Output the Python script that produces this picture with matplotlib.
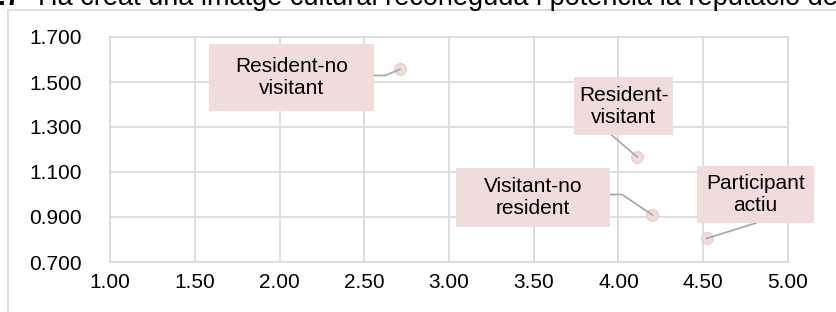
import numpy as np
import matplotlib.pyplot as plt
from matplotlib.patches import Rectangle

plt.rcParams['font.family'] = ['Liberation Sans', 'DejaVu Sans']

# data
names = ['Resident-no\nvisitant', 'Resident-\nvisitant', 'Visitant-no\nresident', 'Participant\nactiu']
xs = [2.71, 4.11, 4.20, 4.52]
ys = [1.556, 1.167, 0.909, 0.805]
xticks = [1.0, 1.5, 2.0, 2.5, 3.0, 3.5, 4.0, 4.5, 5.0]
yticks = [0.7, 0.9, 1.1, 1.3, 1.5, 1.7]

# label boxes (x0, x1, y0, y1) and leader start / elbow, data units
boxes = [(1.584, 2.558, 1.371, 1.669), (3.737, 4.322, 1.264, 1.522),
         (3.041, 3.950, 0.856, 1.118), (4.463, 5.153, 0.873, 1.127)]
leaders = [[(2.558, 1.529), (2.623, 1.529)], [(3.96, 1.264)],
           [(3.950, 1.000), (4.021, 1.000)], [(4.81, 0.873)]]

fig = plt.figure(figsize=(8.36, 3.12), dpi=100)
fig.text(-0.02, 1 - 5/312, '2.7', fontsize=19.5, fontweight='bold', va='baseline')
fig.text(0.045, 1 - 5/312, 'Ha creat una imatge cultural reconeguda i potencia la reputació del',
         fontsize=19.5, va='baseline')
fig.patches.append(Rectangle((8/836, -0.1), 1.2, 1.1 - 10/312, transform=fig.transFigure,
                             fill=False, edgecolor='#D9D9D9', lw=1.2))

ax = fig.add_axes([110/836, 50/312, 678/836, 225/312])
ax.set_xlim(1, 5)
ax.set_ylim(0.7, 1.7)
ax.set_xticks(xticks)
ax.set_yticks(yticks)
ax.set_xticklabels([f'{v:.2f}' for v in xticks])
ax.set_yticklabels([f'{v:.3f}' for v in yticks])
ax.tick_params(length=0, labelsize=15, colors='#000000', pad=8)
ax.tick_params(axis='y', pad=20)
ax.grid(True, color='#D9D9D9', lw=1.2)
ax.set_axisbelow(True)
for s in ax.spines.values():
    s.set_color('#D9D9D9')
    s.set_linewidth(1.2)

ax.scatter(xs, ys, s=70, color='#F2DCDB', edgecolor='#EBCFCE', zorder=3, clip_on=False)

for name, x, y, b, ld in zip(names, xs, ys, boxes, leaders):
    px = [p[0] for p in ld] + [x]
    py = [p[1] for p in ld] + [y]
    ax.plot(px, py, color='#A6A6A6', lw=1.2, zorder=4, clip_on=False)
    ax.add_patch(Rectangle((b[0], b[2]), b[1] - b[0], b[3] - b[2], facecolor='#F2DCDB',
                           edgecolor='none', zorder=5, clip_on=False))
    ax.text((b[0] + b[1]) / 2, (b[2] + b[3]) / 2, name, ha='center', va='center',
            fontsize=15, linespacing=1.2, zorder=6)

fig.savefig('out.png', dpi=100)
